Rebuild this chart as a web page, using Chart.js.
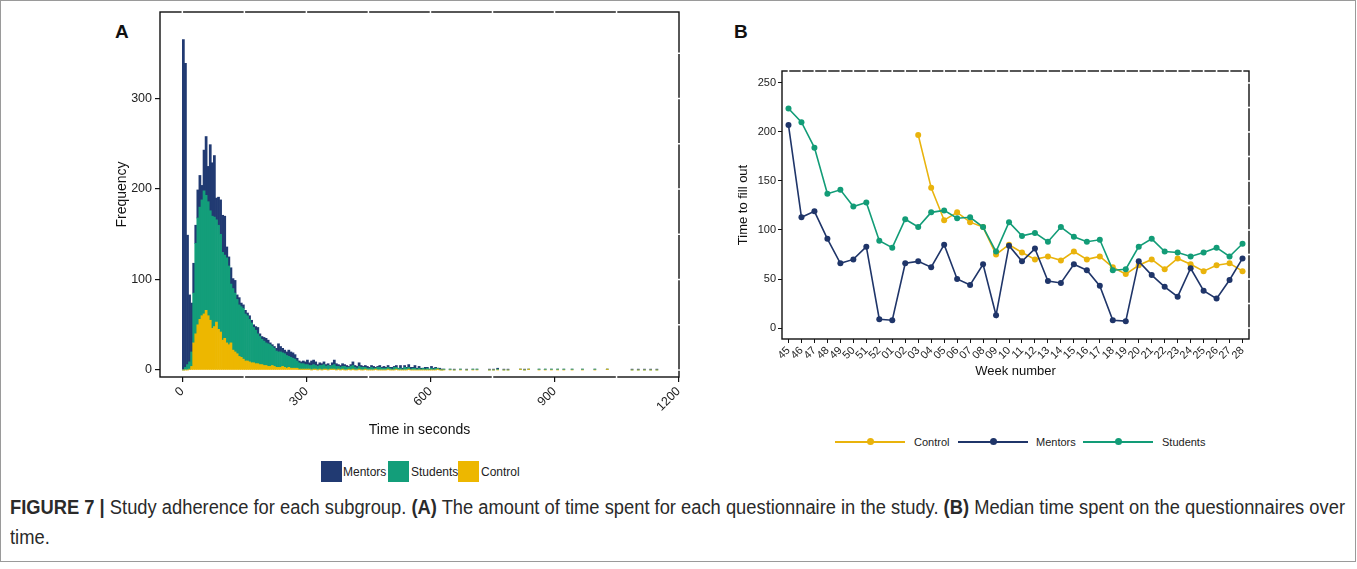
<!DOCTYPE html>
<html>
<head>
<meta charset="utf-8">
<script src="https://cdn.jsdelivr.net/npm/chart.js@4.4.1/dist/chart.umd.min.js"></script>
<style>
  html, body { margin:0; padding:0; background:#fff; }
  body { width:1357px; height:569px; position:relative; overflow:hidden; font-family:"Liberation Sans", Arial, sans-serif; color:#222; }
  #frame { position:absolute; left:0; top:0; width:1354px; height:560px; border:1px solid #9a9a9a; }
  canvas { position:absolute; }
  .plabel { position:absolute; font-weight:bold; font-size:19px; color:#111; }
  .leg { position:absolute; font-size:12px; line-height:14px; white-space:nowrap; }
  .sq { position:absolute; width:21px; height:21px; }
  .lline { position:absolute; height:1.6px; }
  .ldot { position:absolute; width:7px; height:7px; border-radius:50%; }
  .cap { position:absolute; left:10px; font-size:20px; color:#2a2a2a; white-space:nowrap; transform-origin:0 50%; line-height:22px; }
</style>
</head>
<body>
<div id="frame"></div>
<div class="plabel" style="left:115px; top:21px;">A</div>
<div class="plabel" style="left:734px; top:21px;">B</div>
<canvas id="cA" width="700" height="460" style="left:0; top:0;"></canvas>
<canvas id="cB" width="657" height="345" style="left:700px; top:40px;"></canvas>
<div id="legA"></div>
<div id="legB"></div>
<div class="cap" id="cap1" style="top:496px;"><b>FIGURE 7 |</b> Study adherence for each subgroup. <b>(A)</b> The amount of time spent for each questionnaire in the study. <b>(B)</b> Median time spent on the questionnaires over</div>
<div class="cap" id="cap2" style="top:526px;">time.</div>
<script>
// ---------------- Panel A data: histogram, 5-second bins ----------------
const binSeconds = 5;
// counts for bins starting at 0, 5, 10, ... 495 s
const histMentors = [
  365,336,143,74,54,33,20,31,35,16,
  45,65,39,73,59,68,24,31,38,41,
  43,12,10,18,11,14,5,8,4,4,
  4,3,4,3,3,4,7,3,3,4,
  5,4,2,2,2,3,9,6,5,4,
  4,7,6,6,5,3,2,2,3,3,
  5,3,5,5,4,2,3,2,3,2,
  2,1,3,5,3,2,2,3,2,2,
  1,2,4,2,2,4,2,1,2,2,
  1,2,2,1,1,2,1,2,1,2
];
const histStudents = [
  0,3,6,8,16,55,100,118,124,128,
  136,127,126,121,124,121,113,115,108,97,
  92,94,87,65,68,65,60,57,56,56,
  52,50,47,44,39,37,33,31,28,27,
  25,25,24,21,20,18,17,17,15,15,
  14,12,12,11,10,8,7,6,6,5,
  5,4,5,5,4,4,4,5,5,3,
  5,3,4,5,4,3,3,3,4,3,
  2,4,4,3,2,3,3,3,2,2,
  2,3,2,1,3,3,2,2,2,2
];
const histControl = [
  0,0,0,1,4,30,40,50,56,60,
  62,66,60,55,46,48,53,45,42,33,
  35,30,28,30,22,20,18,15,14,12,
  10,10,9,8,8,7,7,6,6,5,
  5,4,4,5,4,3,3,3,4,3,
  2,3,2,2,2,2,1,1,1,1,
  1,1,0,1,1,0,1,0,1,1,
  0,1,1,1,0,1,0,1,0,0,
  1,0,1,0,0,1,0,0,1,0,
  0,0,0,1,0,0,0,0,0,1
];
// sparse long tail: bin start (s) and counts
const tailTimes    = [500,505,510,515,520,525,530,535,540,545,550,555,560,565,570,575,580,585,590,595,600,605,610,615,620,625,630,645,655,670,685,700,710,740,750,760,775,785,815,825,835,860,875,890,905,920,940,965,995,1025,1085,1100,1115,1130,1145];
const tailMentors  = [1,2,1,2,0,3,1,2,1,3,2,1,3,1,2,1,0,2,1,0,2,1,1,0,1,1,0,0,1,0,1,0,0,1,1,1,1,1,0,1,0,0,0,0,0,0,0,0,0,0,1,1,1,1,1];
const tailStudents = [2,1,3,2,2,2,1,3,2,2,1,2,2,1,2,1,2,1,2,1,2,1,2,1,1,0,1,1,0,1,0,1,1,0,0,1,0,0,0,0,0,1,1,1,1,1,1,1,1,0,0,0,0,0,0];
const tailControl  = [0,0,0,1,0,0,0,0,0,1,0,0,0,0,0,0,0,0,0,0,0,0,0,1,0,0,0,0,0,0,0,0,0,0,0,0,0,0,1,0,1,0,0,0,0,0,0,0,0,1,0,0,0,0,0];
const histXTicks = [0, 300, 600, 900, 1200];
const histYTicks = [0, 100, 200, 300];

// ---------------- Panel B data: weekly medians ----------------
const weeks = ["45","46","47","48","49","50","51","52","01","02","03","04","05","06","07","08","09","10","11","12","13","14","15","16","17","18","19","20","21","22","23","24","25","26","27","28"];
const medControl  = [null,null,null,null,null,null,null,null,null,null,197,143,110,118,108,103,75,85,77,70,73,69,78,70,73,62,55,64,70,60,71,65,58,64,66,58];
const medMentors  = [207,113,119,91,66,70,83,9,8,66,68,62,85,50,44,65,13,84,68,81,48,46,65,59,43,8,7,68,54,42,32,61,38,30,49,71];
const medStudents = [224,210,184,137,141,124,128,89,82,111,103,118,120,112,113,103,78,108,94,97,88,103,93,88,90,59,60,83,91,78,77,73,77,82,73,86];
const medYTicks = [0, 50, 100, 150, 200, 250];

// ---------------- styles ----------------
const NAVY = "#213a72", GREEN = "#139e7a", GOLD = "#edb700";
const LNAVY = "#1f3569", LGREEN = "#129c77", LGOLD = "#e9b30c";
const FONT = "'Liberation Sans', Arial, sans-serif";
Chart.defaults.font.family = FONT;
Chart.defaults.color = "#222";

function toPoints(counts, times) {
  return counts.map((c, i) => ({ x: (times ? times[i] : i * binSeconds) + binSeconds / 2, y: c }));
}
const ptsMentors  = toPoints(histMentors).concat(toPoints(tailMentors, tailTimes));
const ptsStudents = toPoints(histStudents).concat(toPoints(tailStudents, tailTimes));
const ptsControl  = toPoints(histControl).concat(toPoints(tailControl, tailTimes));

// frame plugin: panel border with white grid breaks
const framePlugin = {
  id: 'frame',
  afterDraw(chart, args, o) {
    const { ctx, chartArea: a } = chart;
    const xs = chart.scales.x, ys = chart.scales.y;
    ctx.save();
    ctx.strokeStyle = '#111';
    ctx.lineWidth = 1.4;
    ctx.strokeRect(a.left, a.top, a.right - a.left, a.bottom - a.top);
    ctx.strokeStyle = '#fff';
    ctx.lineWidth = o.gap || 1.5;
    const seg = (x1, y1, x2, y2) => { ctx.beginPath(); ctx.moveTo(x1, y1); ctx.lineTo(x2, y2); ctx.stroke(); };
    (o.topX || []).forEach(v => { const p = xs.getPixelForValue(v); seg(p, a.top - 2, p, a.top + 2); });
    (o.bottomX || []).forEach(v => { const p = xs.getPixelForValue(v); seg(p, a.bottom - 2, p, a.bottom + 2); });
    (o.rightY || []).forEach(v => { const p = ys.getPixelForValue(v); seg(a.right - 2, p, a.right + 2, p); });
    ctx.restore();
  }
};

// ---------------- Chart A ----------------
new Chart(document.getElementById('cA'), {
  type: 'bar',
  data: {
    datasets: [
      { label: 'Control',  data: ptsControl,  backgroundColor: GOLD },
      { label: 'Students', data: ptsStudents, backgroundColor: GREEN },
      { label: 'Mentors',  data: ptsMentors,  backgroundColor: NAVY }
    ]
  },
  options: {
    responsive: false, animation: false,
    layout: { padding: { left: 110, right: 21, top: 12, bottom: 17 } },
    datasets: { bar: { barPercentage: 1, categoryPercentage: 1, borderWidth: 0 } },
    plugins: {
      legend: { display: false }, tooltip: { enabled: false },
      frame: { topX: [0,150,300,450,600,750,900,1050], bottomX: [150,450,750,1050], rightY: [0,50,100,150,200,250,300,350], gap: 1.5 }
    },
    scales: {
      x: {
        type: 'linear', stacked: true, min: -54, max: 1201, offset: false,
        afterBuildTicks: s => { s.ticks = histXTicks.map(v => ({ value: v })); },
        afterFit: s => { s.height = 66; },
        ticks: { minRotation: 45, maxRotation: 45, font: { size: 12.5 }, color: '#222', padding: 2, callback: v => String(v) },
        grid: { drawOnChartArea: false, tickLength: 5, color: '#111', lineWidth: 1.2, offset: false },
        border: { display: false },
        title: { display: true, text: 'Time in seconds', font: { size: 14 }, color: '#111' }
      },
      y: {
        stacked: true, min: -7.7, max: 395.6,
        afterBuildTicks: s => { s.ticks = histYTicks.map(v => ({ value: v })); },
        afterFit: s => { s.width = 50; },
        ticks: { font: { size: 12.5 }, color: '#222', padding: 3 },
        grid: { drawOnChartArea: false, tickLength: 5, color: '#111', lineWidth: 1.2 },
        border: { display: false },
        title: { display: true, text: 'Frequency', font: { size: 14 }, color: '#111' }
      }
    }
  },
  plugins: [framePlugin]
});

// ---------------- Chart B ----------------
const lineDs = (label, data, color) => ({
  label, data, borderColor: color, backgroundColor: color, pointBackgroundColor: color,
  pointBorderColor: color, borderWidth: 1.6, pointRadius: 3, pointBorderWidth: 0, tension: 0, spanGaps: false
});
new Chart(document.getElementById('cB'), {
  type: 'line',
  data: {
    labels: weeks,
    datasets: [
      lineDs('Students', medStudents, LGREEN),
      lineDs('Mentors', medMentors, LNAVY),
      lineDs('Control', medControl, LGOLD)
    ]
  },
  options: {
    responsive: false, animation: false,
    layout: { padding: { left: 32, right: 108, top: 31, bottom: 2 } },
    plugins: {
      legend: { display: false }, tooltip: { enabled: false },
      frame: { topX: weeks.map((w, i) => i), rightY: [0,25,50,75,100,125,150,175,200,225,250], gap: 1.6 }
    },
    scales: {
      x: {
        type: 'category', offset: true,
        afterFit: s => { s.height = 44; },
        ticks: { autoSkip: false, minRotation: 45, maxRotation: 45, font: { size: 11 }, color: '#222', padding: 1 },
        grid: { drawOnChartArea: false, tickLength: 4, color: '#111', lineWidth: 1, offset: false },
        border: { display: false },
        title: { display: true, text: 'Week number', font: { size: 13 }, color: '#111' }
      },
      y: {
        min: -11.2, max: 262.2,
        afterBuildTicks: s => { s.ticks = medYTicks.map(v => ({ value: v })); },
        afterFit: s => { s.width = 50; },
        ticks: { font: { size: 11 }, color: '#222', padding: 2 },
        grid: { drawOnChartArea: false, tickLength: 4, color: '#111', lineWidth: 1 },
        border: { display: false },
        title: { display: true, text: 'Time to fill out', font: { size: 13 }, color: '#111' }
      }
    }
  },
  plugins: [framePlugin]
});

// ---------------- Legends ----------------
const legA = document.getElementById('legA');
[
  { t: 'Mentors', c: NAVY, sx: 321, tx: 343 },
  { t: 'Students', c: GREEN, sx: 388, tx: 411 },
  { t: 'Control', c: GOLD, sx: 458, tx: 481 }
].forEach(e => {
  legA.insertAdjacentHTML('beforeend',
    `<div class="sq" style="left:${e.sx}px; top:461px; background:${e.c};"></div>` +
    `<div class="leg" style="left:${e.tx}px; top:465px;">${e.t}</div>`);
});
const legB = document.getElementById('legB');
[
  { t: 'Control', c: LGOLD, lx: 835, tx: 914 },
  { t: 'Mentors', c: LNAVY, lx: 958, tx: 1036 },
  { t: 'Students', c: LGREEN, lx: 1083, tx: 1162 }
].forEach(e => {
  legB.insertAdjacentHTML('beforeend',
    `<div class="lline" style="left:${e.lx}px; top:441px; width:70px; background:${e.c};"></div>` +
    `<div class="ldot" style="left:${e.lx + 31.5}px; top:438.3px; background:${e.c};"></div>` +
    `<div class="leg" style="left:${e.tx}px; top:435px; font-size:11px;">${e.t}</div>`);
});

// ---------------- Caption fit ----------------
const cap1 = document.getElementById('cap1'), cap2 = document.getElementById('cap2');
const w = cap1.getBoundingClientRect().width;
const k = 1335 / w;
cap1.style.transform = `scaleX(${k})`;
cap2.style.transform = `scaleX(${k})`;
</script>
</body>
</html>
